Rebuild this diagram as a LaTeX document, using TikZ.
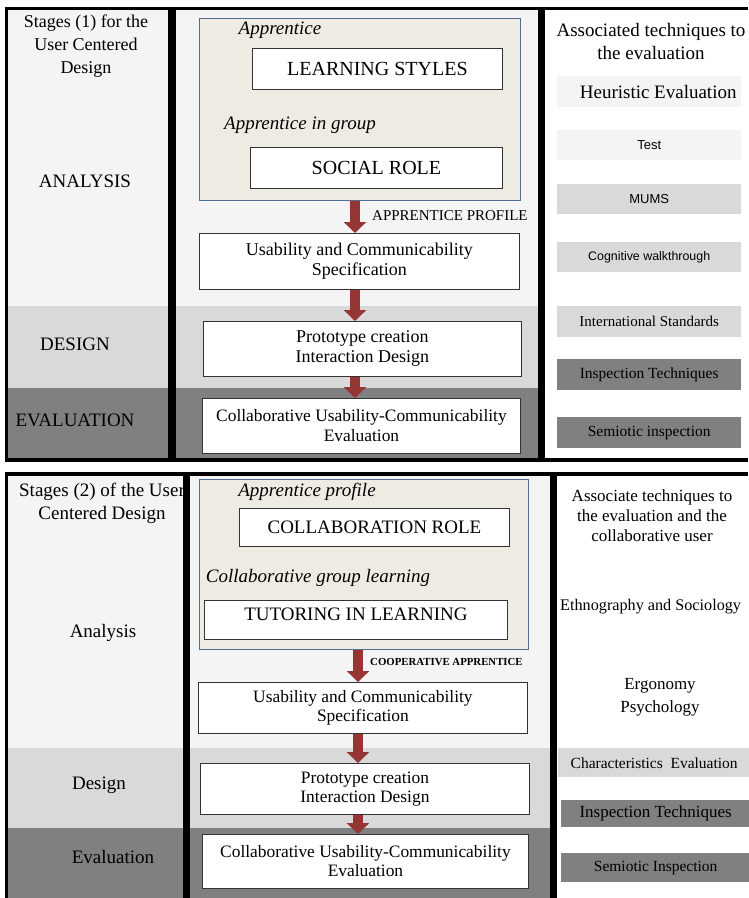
\documentclass[tikz,border=0pt]{standalone}
\usepackage{fontspec}
\setmainfont{Liberation Serif}
\newfontfamily\arialfont{Liberation Sans}
\usepackage{tikz}
\usetikzlibrary{arrows.meta, positioning}
\usepackage{xcolor}
\definecolor{cLight}{RGB}{244,244,244}
\definecolor{cMid}{RGB}{217,217,217}
\definecolor{cDeep}{RGB}{128,128,128}
\definecolor{cBeige}{RGB}{238,236,226}
\definecolor{cFrame}{RGB}{79,110,145}
\definecolor{cArrow}{RGB}{150,54,52}
\newcommand{\setfs}[2]{\fontsize{#1pt}{#2pt}\selectfont}
\tikzset{
  stagetext/.style={align=center, inner sep=0pt, font=\setfs{19}{23}},
  hinttext/.style={inner sep=0pt, font=\setfs{19}{22}\itshape},
  profilebox/.style={rectangle, draw=cFrame, fill=cBeige, line width=1.3pt,
                     inner sep=0pt, anchor=north west},
  rolebox/.style={rectangle, draw=black!80, fill=white, line width=0.9pt,
                  inner sep=0pt, anchor=north west, font=\setfs{20}{22}},
  stepbox/.style={rectangle, draw=black!80, fill=white, line width=0.9pt,
                  inner sep=0pt, anchor=north west, align=center,
                  font=\setfs{18}{20}},
  techbox/.style={rectangle, inner sep=0pt, anchor=north west,
                  font=\setfs{15.5}{18}},
  sanstech/.style={techbox, font=\arialfont\setfs{13}{15}},
  flowlabel/.style={anchor=west, inner sep=0pt, font=\setfs{15}{17}},
  flowarrow/.style={-{Triangle[width=22pt,length=11pt]}, line width=10pt,
                    draw=cArrow},
}

\begin{document}
\begin{tikzpicture}[x=1pt, y=-1pt]

  \useasboundingbox[fill=white] (0,0) rectangle (748,898);

  % ── Panel 1: bands ──
  \fill[cLight] (5,10) rectangle (538,306);
  \fill[cMid]   (5,306) rectangle (538,388);
  \fill[cDeep]  (5,388) rectangle (538,460);

  % ── Panel 2: bands ──
  \fill[cLight] (5,476) rectangle (550,748);
  \fill[cMid]   (5,748) rectangle (550,828);
  \fill[cDeep]  (5,828) rectangle (550,898);

  % ── Stage column ──
  \node[stagetext, font=\setfs{18}{23}] (head1) at (86,46)
      {Stages (1) for the\\User Centered\\Design};
  \node[stagetext] (ana1) at (85,181) {ANALYSIS};
  \node[stagetext] (des1) at (75,344) {DESIGN};
  \node[stagetext] (eva1) at (75,420) {EVALUATION};

  \node[stagetext] (head2) at (102,503)
      {Stages (2) of the User\\Centered Design};
  \node[stagetext] (ana2) at (103,633) {Analysis};
  \node[stagetext] (des2) at (99,785) {Design};
  \node[stagetext] (eva2) at (113,857) {Evaluation};

  % ── Frames ──
  \draw[line width=3pt] (5,8.5) -- (748,8.5);
  \draw[line width=3pt] (6.5,8) -- (6.5,460);
  \draw[line width=8pt] (172,8) -- (172,462);
  \draw[line width=7pt] (541.5,8) -- (541.5,462);
  \draw[line width=4pt] (5,460) -- (748,460);

  \draw[line width=3.5pt] (5,474) -- (748,474);
  \draw[line width=3pt] (6.5,474) -- (6.5,898);
  \draw[line width=7pt] (186.5,474) -- (186.5,898);
  \draw[line width=7pt] (553.5,474) -- (553.5,898);

  % ── Panel 1: apprentice ──
  \node[profilebox, minimum width=321pt, minimum height=182pt] (profile1)
      at (199,18) {};
  \node[hinttext] (hint1) at (280,30) {Apprentice};
  \node[rolebox, minimum width=250pt, minimum height=41pt] (learn)
      at (252,48) {LEARNING STYLES};
  \node[hinttext] (hint2) at (300,125) {Apprentice in group};
  \node[rolebox, minimum width=252pt, minimum height=41pt] (social)
      at (250,147) {SOCIAL ROLE};

  % ── Panel 1: process ──
  \node[stepbox, minimum width=320pt, minimum height=56pt] (spec1)
      at (199,233) {Usability and Communicability\\Specification};
  \node[stepbox, minimum width=318pt, minimum height=55pt] (proto1)
      at (203,321) {Prototype creation\\Interaction Design};
  \node[stepbox, minimum width=318pt, minimum height=55pt,
        font=\setfs{17.4}{20}] (eval1)
      at (202,398) {Collaborative Usability-Communicability\\Evaluation};

  \coordinate (axis1) at (355,0);
  \draw[flowarrow] (axis1 |- profile1.south) -- (axis1 |- spec1.north);
  \draw[flowarrow] (axis1 |- spec1.south) -- (axis1 |- proto1.north);
  \draw[flowarrow] (axis1 |- proto1.south) -- (axis1 |- eval1.north);
  \node[flowlabel] (flow1) at (372,216) {APPRENTICE PROFILE};

  % ── Panel 1: techniques ──
  \node[stagetext] (tech1) at (651,41)
      {Associated techniques to\\the evaluation};
  \node[techbox, fill=cLight, minimum width=184pt, minimum height=31pt,
        font=\setfs{19}{21}] (heur) at (557,76) {\hspace{18pt}Heuristic Evaluation};
  \node[sanstech, fill=cLight, minimum width=184pt, minimum height=30pt]
      (test) at (557,130) {Test};
  \node[sanstech, fill=cMid, minimum width=184pt, minimum height=30pt]
      (mums) at (557,184) {MUMS};
  \node[sanstech, fill=cMid, minimum width=184pt, minimum height=30pt,
        font=\arialfont\setfs{12.4}{14}] (cogn) at (557,242)
      {Cognitive walkthrough};
  \node[techbox, fill=cMid, minimum width=184pt, minimum height=31pt,
        font=\setfs{15}{18}] (iso) at (557,306) {International Standards};
  \node[techbox, fill=cDeep, minimum width=184pt, minimum height=31pt]
      (insp1) at (557,359) {Inspection Techniques};
  \node[techbox, fill=cDeep, minimum width=184pt, minimum height=31pt]
      (semi1) at (557,417) {Semiotic inspection};

  % ── Panel 2: apprentice ──
  \node[profilebox, minimum width=329pt, minimum height=170pt] (profile2)
      at (199,479) {};
  \node[hinttext] (hint3) at (307,492) {Apprentice profile};
  \node[rolebox, minimum width=270pt, minimum height=38pt, font=\setfs{19}{22}]
      (collab) at (239,508) {COLLABORATION ROLE};
  \node[hinttext] (hint4) at (318,578) {Collaborative group learning};
  \node[rolebox, minimum width=303pt, minimum height=39pt, font=\setfs{19}{22},
        text depth=11pt] (tutor) at (204,600) {TUTORING IN LEARNING};

  % ── Panel 2: process ──
  \node[stepbox, minimum width=329pt, minimum height=51pt,
        font=\setfs{17.4}{19}] (spec2)
      at (198,682) {Usability and Communicability\\Specification};
  \node[stepbox, minimum width=329pt, minimum height=51pt,
        font=\setfs{17.4}{19}] (proto2)
      at (200,763) {Prototype creation\\Interaction Design};
  \node[stepbox, minimum width=326pt, minimum height=54pt,
        font=\setfs{17.4}{19}] (eval2)
      at (202,834) {Collaborative Usability-Communicability\\Evaluation};

  \coordinate (axis2) at (358,0);
  \draw[flowarrow] (axis2 |- profile2.south) -- (axis2 |- spec2.north);
  \draw[flowarrow] (axis2 |- spec2.south) -- (axis2 |- proto2.north);
  \draw[flowarrow] (axis2 |- proto2.south) -- (axis2 |- eval2.north);
  \node[flowlabel, font=\setfs{10.8}{13}\bfseries] (flow2) at (370,662)
      {COOPERATIVE APPRENTICE};

  % ── Panel 2: techniques ──
  \node[stagetext, font=\setfs{17}{20}] (tech2) at (652,516)
      {Associate techniques to\\the evaluation and the\\collaborative user};
  \node[stagetext, font=\setfs{16.2}{20}, anchor=west] (ethno) at (560,607)
      {Ethnography and Sociology};
  \node[stagetext, font=\setfs{17}{23}] (ergo) at (660,697)
      {Ergonomy\\Psychology};
  \node[techbox, fill=cMid, minimum width=192pt, minimum height=29pt]
      (charac) at (558,748) {Characteristics~ Evaluation};
  \node[techbox, fill=cDeep, minimum width=189pt, minimum height=27pt,
        font=\setfs{17}{19}] (insp2) at (561,800)
      {Inspection Techniques\hspace{26pt}};
  \node[techbox, fill=cDeep, minimum width=189pt, minimum height=29pt]
      (semi2) at (561,853) {Semiotic Inspection};

\end{tikzpicture}
\end{document}
